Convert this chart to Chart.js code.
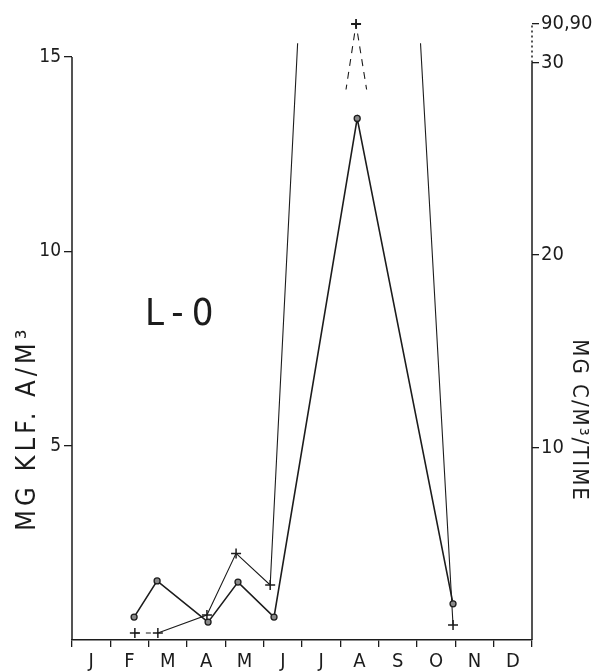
<!DOCTYPE html>
<html>
<head>
<meta charset="utf-8">
<title>L-0</title>
<script src="https://cdn.jsdelivr.net/npm/chart.js@4.4.1/dist/chart.umd.min.js"></script>
<style>
  html, body { margin: 0; padding: 0; background: #fff; }
  canvas { display: block; }
</style>
</head>
<body>
<canvas id="chart" width="607" height="672"></canvas>
<script>
// Station L-0: chlorophyll a (left axis) and carbon fixation (right axis) through the year

const monthLabels = ['J', 'F', 'M', 'A', 'M', 'J', 'J', 'A', 'S', 'O', 'N', 'D'];

// sampling dates, in months counted from 1 January
const chlMonths = [1.62, 2.22, 3.55, 4.33, 5.27, 7.44, 9.94];
const prodMonths = [1.64, 2.24, 3.52, 4.28, 5.17, 7.41, 9.94];

// MG KLF. A/M3
const chlValues = [0.59, 1.52, 0.46, 1.49, 0.59, 13.42, 0.93];
// MG C/M3/TIME
const prodValues = [0.36, 0.36, 1.3, 4.5, 2.86, 90.9, 0.78];

const leftTicks = [5, 10, 15];
const rightTicks = [10, 20, 30];
const rightBreak = 30;   // right axis is broken above this
const rightTop = 32;     // off-scale values sit here on the broken axis

const ink = '#1c1c1c';
const fontFamily = "'DejaVu Sans Condensed', 'Liberation Sans Narrow', 'DejaVu Sans', sans-serif";
const peakLabel = Math.max(...prodValues).toFixed(2).replace('.', ',');

function onBrokenAxis(v) {
    return v > rightBreak ? rightTop : v;
}

// clip a dataset to a band of its own y scale (used for the broken axis)
const bandClip = {
    id: 'bandClip',
    beforeDatasetDraw(chart, args) {
        const ds = chart.data.datasets[args.index];
        if (ds.showBelow === undefined && ds.showAbove === undefined) return;
        const y = chart.scales[ds.yAxisID];
        const top = ds.showBelow !== undefined ? y.getPixelForValue(ds.showBelow) : 0;
        const bottom = ds.showAbove !== undefined ? y.getPixelForValue(ds.showAbove) : chart.height;
        const ctx = chart.ctx;
        ctx.save();
        ctx.beginPath();
        ctx.rect(0, top, chart.width, bottom - top);
        ctx.clip();
    },
    afterDatasetDraw(chart, args) {
        const ds = chart.data.datasets[args.index];
        if (ds.showBelow === undefined && ds.showAbove === undefined) return;
        chart.ctx.restore();
    }
};

// vertical axis lines: left stops at its last tick, right goes dotted over the break
const axisLines = {
    id: 'axisLines',
    beforeDatasetsDraw(chart) {
        const { ctx, scales: { x, yA, yC } } = chart;
        const left = x.getPixelForValue(0);
        const right = x.getPixelForValue(12);
        ctx.save();
        ctx.strokeStyle = ink;
        ctx.lineWidth = 1.5;
        ctx.beginPath();
        ctx.moveTo(left, yA.getPixelForValue(0));
        ctx.lineTo(left, yA.getPixelForValue(leftTicks[leftTicks.length - 1]));
        ctx.moveTo(right, yC.getPixelForValue(0));
        ctx.lineTo(right, yC.getPixelForValue(rightBreak));
        ctx.stroke();
        ctx.setLineDash([2, 3]);
        ctx.beginPath();
        ctx.moveTo(right, yC.getPixelForValue(rightBreak));
        ctx.lineTo(right, yC.getPixelForValue(rightTop));
        ctx.stroke();
        ctx.restore();
    }
};

// station name and axis titles
const labels = {
    id: 'labels',
    afterDraw(chart) {
        const { ctx, scales: { x, yA, yC } } = chart;
        ctx.save();
        ctx.fillStyle = ink;
        ctx.textAlign = 'center';
        ctx.textBaseline = 'middle';

        ctx.font = `38px ${fontFamily}`;
        ctx.letterSpacing = '8px';
        ctx.fillText('L-0', x.getPixelForValue(2.9), yA.getPixelForValue(8.35));

        ctx.font = `27px ${fontFamily}`;
        ctx.letterSpacing = '4px';
        ctx.save();
        ctx.translate(x.left - 44, yA.getPixelForValue(5.45));
        ctx.rotate(-Math.PI / 2);
        ctx.fillText('MG KLF. A/M\u00B3', 0, 0);
        ctx.restore();

        ctx.font = `22px ${fontFamily}`;
        ctx.letterSpacing = '2px';
        ctx.save();
        ctx.translate(x.right + 47, yC.getPixelForValue(11.4));
        ctx.rotate(Math.PI / 2);
        ctx.fillText('MG C/M\u00B3/TIME', 0, 0);
        ctx.restore();

        ctx.restore();
    }
};

const ctx = document.getElementById('chart').getContext('2d');

new Chart(ctx, {
    type: 'line',
    data: {
        datasets: [
            {
                label: 'MG KLF. A/M3',
                yAxisID: 'yA',
                data: chlMonths.map((m, i) => ({ x: m, y: chlValues[i] })),
                borderColor: ink,
                borderWidth: 1.6,
                pointStyle: 'circle',
                pointRadius: 3,
                pointBorderWidth: 1.3,
                pointBorderColor: ink,
                pointBackgroundColor: '#8a8a8a',
                tension: 0
            },
            {
                label: 'MG C/M3/TIME',
                yAxisID: 'yC',
                data: prodMonths.map((m, i) => ({ x: m, y: prodValues[i] })),
                showBelow: 31,
                borderColor: ink,
                borderWidth: 1.1,
                pointStyle: 'cross',
                pointRadius: 5,
                pointBorderWidth: 1.5,
                pointBorderColor: ink,
                tension: 0,
                segment: {
                    borderDash: c => (c.p0DataIndex === 0 ? [5, 6] : undefined)
                }
            },
            {
                label: 'MG C/M3/TIME (broken axis)',
                yAxisID: 'yC',
                data: prodMonths.map((m, i) => ({ x: m, y: onBrokenAxis(prodValues[i]) })),
                showAbove: 28.6,
                clip: false,
                borderColor: ink,
                borderWidth: 1.1,
                borderDash: [7, 6],
                pointStyle: 'cross',
                pointRadius: c => (prodValues[c.dataIndex] > rightBreak ? 5 : 0),
                pointBorderWidth: 1.8,
                pointBorderColor: ink,
                tension: 0
            }
        ]
    },
    options: {
        responsive: false,
        animation: false,
        events: [],
        layout: { padding: { top: 24, left: 0, right: 0, bottom: 0 } },
        plugins: {
            legend: { display: false },
            tooltip: { enabled: false }
        },
        scales: {
            x: {
                type: 'linear',
                min: 0,
                max: 12,
                afterFit: s => { s.height = 32; },
                ticks: {
                    stepSize: 0.5,
                    autoSkip: false,
                    maxRotation: 0,
                    padding: 3,
                    color: ink,
                    font: { family: fontFamily, size: 20 },
                    callback: v => (Number.isInteger(v) ? '' : monthLabels[Math.floor(v)])
                },
                grid: {
                    drawOnChartArea: false,
                    tickLength: 7,
                    lineWidth: 1.3,
                    tickColor: c => (Number.isInteger(c.tick.value) ? ink : 'transparent')
                },
                border: { display: true, color: ink, width: 1.5 }
            },
            yA: {
                type: 'linear',
                position: 'left',
                min: 0,
                max: 15.85,
                afterFit: s => { s.width = 72; },
                afterBuildTicks: s => { s.ticks = leftTicks.map(v => ({ value: v })); },
                ticks: {
                    padding: 3,
                    color: ink,
                    font: { family: fontFamily, size: 19 }
                },
                grid: { drawOnChartArea: false, tickLength: 8, color: ink, lineWidth: 1.3 },
                border: { display: false }
            },
            yC: {
                type: 'linear',
                position: 'right',
                min: 0,
                max: rightTop,
                afterFit: s => { s.width = 75; },
                afterBuildTicks: s => { s.ticks = rightTicks.concat([rightTop]).map(v => ({ value: v })); },
                ticks: {
                    padding: 2,
                    color: ink,
                    font: { family: fontFamily, size: 20 },
                    callback: v => (v === rightTop ? peakLabel : v)
                },
                grid: { drawOnChartArea: false, tickLength: 7, color: ink, lineWidth: 1.3 },
                border: { display: false }
            }
        }
    },
    plugins: [bandClip, axisLines, labels]
});
</script>
</body>
</html>
